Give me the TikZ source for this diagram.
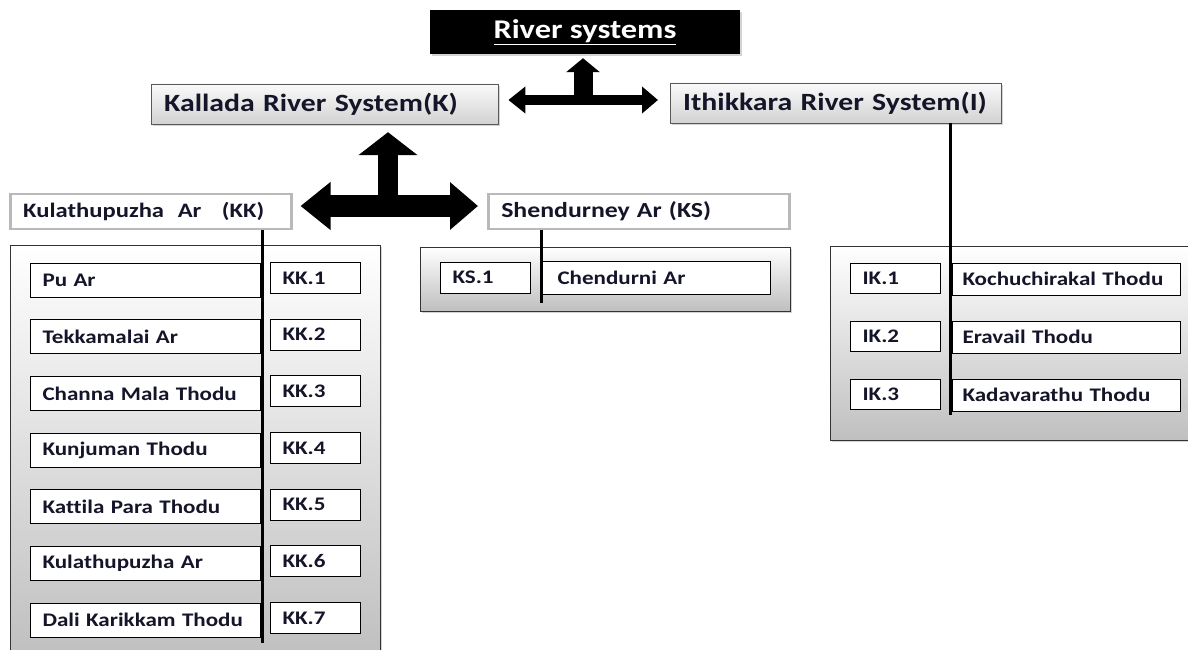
\documentclass[tikz,border=0pt]{standalone}
\usepackage{fontspec}
\setmainfont{Carlito}[FakeStretch=1.2, Ligatures=NoCommon]
\usepackage{xcolor}
\usetikzlibrary{arrows.meta}
\usetikzlibrary{positioning}
\usetikzlibrary{shadows}
\definecolor{inktext}{HTML}{15152A}

\tikzset{
    softshadow/.style={drop shadow={shadow xshift=2pt, shadow yshift=-2pt, opacity=0.35}},
    titlebox/.style={fill=black, text=white, minimum width=310pt, minimum height=44pt, font=\fontsize{27}{32}\selectfont\bfseries, softshadow},
    sysbox/.style={draw=gray!70!black, top color=gray!4, bottom color=gray!35, minimum height=40pt, anchor=west, inner xsep=13pt, align=left, text=inktext, font=\fontsize{24.8}{29}\selectfont\bfseries, softshadow},
    subbox/.style={draw=gray!55, line width=2.5pt, fill=white, minimum height=35pt, anchor=west, inner xsep=13pt, align=left, text=inktext, font=\fontsize{21.5}{26}\selectfont\bfseries},
    panel/.style={draw=gray!40!black, top color=white, bottom color=gray!50, anchor=north west, softshadow},
    namebox/.style={draw=black, line width=1pt, fill=white, minimum height=34pt, anchor=west, inner xsep=12pt, align=left, text=inktext, font=\fontsize{19.2}{23}\selectfont\bfseries},
    codebox/.style={namebox, minimum height=31pt},
    joinline/.style={line width=3pt, black}
}

\begin{document}
\begin{tikzpicture}[x=1pt, y=-1pt]
            \useasboundingbox (0,0) rectangle (1188,650);

            \node[titlebox] (rs) at (585,32) {\underline{River systems}};
            \node[sysbox, text width=321pt] (kal) at (151,104) {Kallada River System(K)};
            \node[sysbox, text width=305pt] (ith) at (670,103) {Ithikkara River System(I)};

            \node[subbox, text width=255pt, font=\fontsize{20.5}{25}\selectfont\bfseries] (kk) at (9,211.5) {\mbox{Kulathupuzha\ \ Ar\ \ \ (KK)}};
            \node[subbox, text width=275pt] (ks) at (487,211.5) {Shendurney Ar (KS)};

            \node[panel, minimum width=370pt, minimum height=412pt] (kkpanel) at (10,245) {};
            \node[panel, minimum width=370pt, minimum height=64pt] (kspanel) at (420,247) {};
            \node[panel, minimum width=370pt, minimum height=194pt] (ipanel) at (830,246) {};

            \foreach \nm [count=\i] in {Pu Ar, Tekkamalai Ar, Channa Mala Thodu, Kunjuman Thodu, Kattila Para Thodu, Kulathupuzha Ar, Dali Karikkam Thodu}{
                \node[namebox, text width=206pt] (kkn\i) at (30,{280+56.67*(\i-1)}) {\nm};
                \node[codebox, text width=66pt] (kkc\i) at (270,{278+56.67*(\i-1)}) {KK.\i};
            }

            \node[codebox, text width=66pt] (ksc1) at (440,277.5) {KS.1};
            \node[namebox, text width=196pt, inner xsep=17pt, minimum height=33pt] (ksn1) at (540,278) {Chendurni Ar};

            \foreach \nm [count=\i] in {Kochuchirakal Thodu, Eravail Thodu, Kadavarathu Thodu}{
                \node[codebox, text width=66pt, minimum height=30pt] (ic\i) at (850,{278+58*(\i-1)}) {IK.\i};
                \node[namebox, text width=208pt, inner xsep=10pt, minimum height=32pt] (in\i) at (952,{279+58*(\i-1)}) {\nm};
            }

            \coordinate (kkend) at (262,643);
            \coordinate (ksend) at (541,303);
            \coordinate (iend) at (950,415);
            \draw[joinline] (kk.south -| kkend) -- (kkend);
            \draw[joinline] (ks.south -| ksend) -- (ksend);
            \draw[joinline] (ith.south -| iend) -- (iend);

            \coordinate (tj) at (583,100);
            \draw[line width=10pt, {Triangle[width=26pt,length=17pt]}-{Triangle[width=26pt,length=16pt]}, shorten <=10pt, shorten >=12pt](kal.east |- tj)--(ith.west |- tj);
            \draw[line width=19pt, -{Triangle[width=33pt,length=14pt]}, shorten >=4pt](tj)--(rs.south -| tj);

            \coordinate (bj) at (388,206);
            \draw[line width=22pt, {Triangle[width=46pt,length=30pt]}-{Triangle[width=46pt,length=28pt]}, shorten <=8pt, shorten >=9pt](kk.east |- bj)--(ks.west |- bj);
            \draw[line width=20pt, -{Triangle[width=58pt,length=23pt]}, shorten >=8pt](bj)--(kal.south -| bj);
        \end{tikzpicture}
\end{document}
